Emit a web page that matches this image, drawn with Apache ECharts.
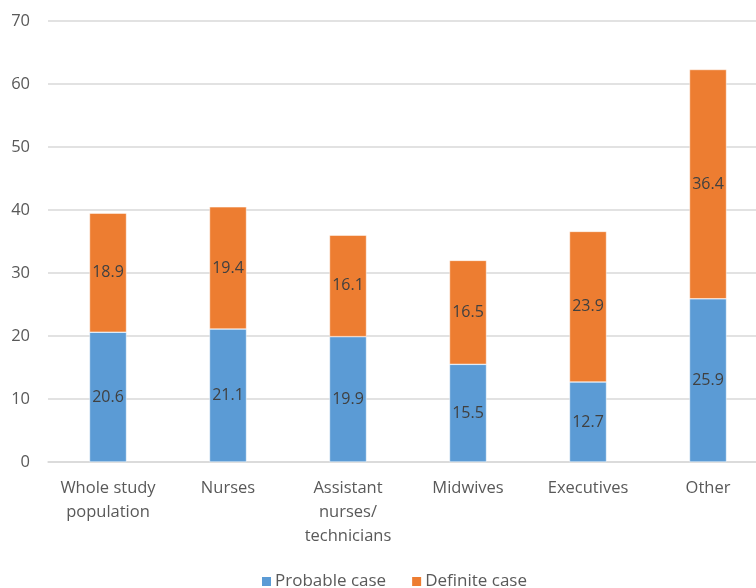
<!DOCTYPE html>
<html><head><meta charset="utf-8">
<script src="https://cdn.jsdelivr.net/npm/echarts@6/dist/echarts.min.js"></script>
<style>html,body{margin:0;padding:0;background:#fff;overflow:hidden;width:756px;height:588px}#c{width:768px;height:588px}</style>
</head><body><div id="c"></div>
<script>
var categories = ['Whole study\npopulation', 'Nurses', 'Assistant\nnurses/\ntechnicians', 'Midwives', 'Executives', 'Other'];
var probable = [20.6, 21.1, 19.9, 15.5, 12.7, 25.9];
var definite = [18.9, 19.4, 16.1, 16.5, 23.9, 36.4];
var yTicks = [0, 10, 20, 30, 40, 50, 60, 70];
var font = '"Open Sans", "Liberation Sans", sans-serif';
var chart = echarts.init(document.getElementById('c'));
var lbl = {show: true, position: 'inside', color: '#404040', fontSize: 16, fontFamily: font};
chart.setOption({
  animation: false,
  grid: {left: 48, right: 0, top: 21, bottom: 126},
  legend: {
    left: 255, top: 568, itemWidth: 11, itemHeight: 11, itemGap: 24, icon: 'rect',
    textStyle: {color: '#595959', fontSize: 17, fontFamily: font, padding: [0, 0, 0, -2]},
    data: ['Probable case', 'Definite case']
  },
  xAxis: {
    type: 'category', data: categories,
    axisLine: {lineStyle: {color: '#D9D9D9', width: 1.5}},
    axisTick: {show: false},
    axisLabel: {color: '#595959', fontSize: 16.5, fontFamily: font, lineHeight: 24, margin: 14, interval: 0}
  },
  yAxis: {
    type: 'value', min: yTicks[0], max: yTicks[yTicks.length - 1], interval: 10,
    axisLine: {show: false}, axisTick: {show: false},
    axisLabel: {color: '#595959', fontSize: 16.5, fontFamily: font, margin: 18},
    splitLine: {lineStyle: {color: '#D9D9D9', width: 1.5}}
  },
  series: [
    {name: 'Probable case', type: 'bar', stack: 's', data: probable, barWidth: 37,
     itemStyle: {color: '#5B9BD5', borderColor: '#fff', borderWidth: 0.5}, label: lbl},
    {name: 'Definite case', type: 'bar', stack: 's', data: definite, barWidth: 37,
     itemStyle: {color: '#ED7D31', borderColor: '#fff', borderWidth: 0.5}, label: lbl}
  ]
});
</script></body></html>
